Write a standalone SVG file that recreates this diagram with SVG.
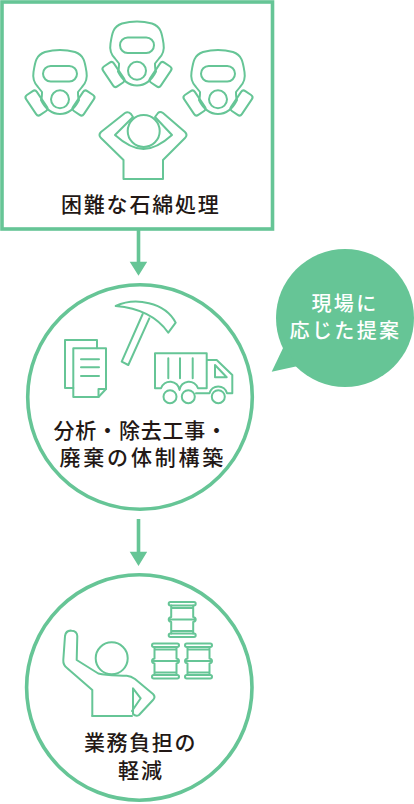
<svg xmlns="http://www.w3.org/2000/svg" width="414" height="804" viewBox="0 0 414 804">
<style>
.ic{fill:none;stroke:#66c596;stroke-width:2;stroke-linejoin:round;stroke-linecap:round}
.fr{fill:#fff;stroke:#66c596;stroke-width:3.6}
.t{font-family:"Noto Sans CJK JP","Noto Sans",sans-serif;font-size:21px;font-weight:500;fill:#231815}
.w{fill:#fff;font-size:20px;letter-spacing:2.4px}
.ln{stroke:#66c596;stroke-width:3.6;fill:none}
.hd{fill:#66c596}
</style>
<defs>
<g id="mask">
<path d="M-18,42L-22,37C-26,33-27.500,28-26.500,22C-25,12-24,5-15,2C-6,-0.500 6,-0.500 15,2C24,5 25,12 26.500,22C27.500,28 26,33 22,37L18,42C18,46 18,48 19,50C14,60 8,64 0,64C-8,64-14,60-19,50C-18,48-18,46-18,42Z"/>
<rect x="-17" y="16" width="34" height="15.500" rx="7.700"/>
<circle cx="0" cy="49.300" r="9"/>
<rect x="-6.500" y="-12" width="13" height="24" rx="3" transform="translate(-23.500 53) rotate(-34)"/>
<rect x="-6.500" y="-12" width="13" height="24" rx="3" transform="translate(23.500 53) rotate(34)"/>
</g>
<g id="drum">
<rect x="1" y="1" width="27" height="3.500" rx="1.700"/>
<rect x="1" y="32.500" width="27" height="3.500" rx="1.700"/>
<path d="M3.500,4.500V16Q1,16.500 1,18.500Q1,20.500 3.500,21V32.500M25.500,4.500V16Q28,16.500 28,18.500Q28,20.500 25.500,21V32.500M3.500,7H25.500M1,18.500H28M3.500,30H25.500"/>
</g>
</defs>
<g id="connectors">
<path class="ln" d="M138.500,230V262M138.500,519V552"/>
<path class="hd" d="M129.700,261.700H147.200L138.500,275.700ZM129.700,551.700H147.200L138.500,566Z"/>
</g>
<g id="node-difficult">
<rect class="fr" x="2" y="2" width="270.500" height="227"/>
<use href="#mask" class="ic" x="137" y="21.500"/>
<use href="#mask" class="ic" x="60" y="50"/>
<use href="#mask" class="ic" x="218" y="50"/>
<circle class="ic" cx="143.700" cy="131" r="16"/>
<path class="ic" d="M123.500,179V160L101,138Q98,135 101,132L125,113Q128,111 131,114L133,117L115,135C125,144 134,149 143.500,149C153,149 162,144 172,135L155,117L158,113Q160,111 163,113L185,132Q188,135 185,138L163,160V179Z"/>
<text class="t" x="61" y="212" letter-spacing="1.800">困難な石綿処理</text>
</g>
<g id="node-analysis">
<circle class="fr" cx="140" cy="397" r="112.300"/>
<path class="ic" d="M73.300,388H65V340H97V348.300"/>
<path class="ic" d="M73.300,348.300H106V389L98.500,397H73.300Z"/>
<path class="ic" d="M98.500,397V389H106M81,359.300H99M81,367.300H99M81,376H99"/>
<path class="ic" d="M115.700,306C135,297 165,302 175.700,322.700L168.300,332.700C158,318 140,308 115.700,306Z"/>
<path class="ic" d="M142.700,314L121.700,361.700L128.300,365L149.300,318.300"/>
<path class="ic" d="M206.700,360V388.300H198A9.500,9.500 0 0 0 179.500,390A9.500,9.500 0 0 0 161,388.300H155V353.300H206.700V360H216.700L232.300,375V393.300H227A9,9 0 0 0 209.500,393.300H196M168.300,358.300V378.300M180,358.300V378.300M192.700,358.300V378.300"/>
<path class="ic" d="M215,365V377.300H226.700Z"/>
<circle class="ic" cx="170" cy="396.700" r="6.500"/>
<circle class="ic" cx="188.300" cy="396.700" r="6.500"/>
<circle class="ic" cx="218.300" cy="396.700" r="6.500"/>
<text class="t" x="53.500" y="438" letter-spacing="0.800">分析・除去工事・</text>
<text class="t" x="59.500" y="465" letter-spacing="2.800">廃棄の体制構築</text>
</g>
<g id="node-reduce">
<circle class="fr" cx="139.300" cy="687.500" r="112.700"/>
<use href="#drum" class="ic" x="167.700" y="601"/>
<use href="#drum" class="ic" x="151" y="642.500"/>
<use href="#drum" class="ic" x="184" y="642.500"/>
<circle class="ic" cx="111.700" cy="658.300" r="16"/>
<path class="ic" d="M92.300,716V690L67,668Q63,665 63.300,660L65,636Q66,630 71.700,630.700Q77,631 77.300,636L76.700,660L98.300,673.500C108,676 118,675 126.700,675.700Q131,676 135,679L153,694Q156,697 153,700L139,715Q136,717 133,714V688.300L140.700,698.300L132,711"/>
<path class="ic" d="M92.300,716H132"/>
<text class="t" x="84" y="750" letter-spacing="1.600">業務負担の</text>
<text class="t" x="118" y="778" letter-spacing="2">軽減</text>
</g>
<g id="bubble">
<circle class="hd" cx="345" cy="318" r="69"/>
<path class="hd" d="M284,346L271.700,371.700L298,366Z"/>
<text class="t w" x="345" y="310.500" text-anchor="middle">現場に</text>
<text class="t w" x="345.500" y="338" text-anchor="middle">応じた提案</text>
</g>
</svg>
